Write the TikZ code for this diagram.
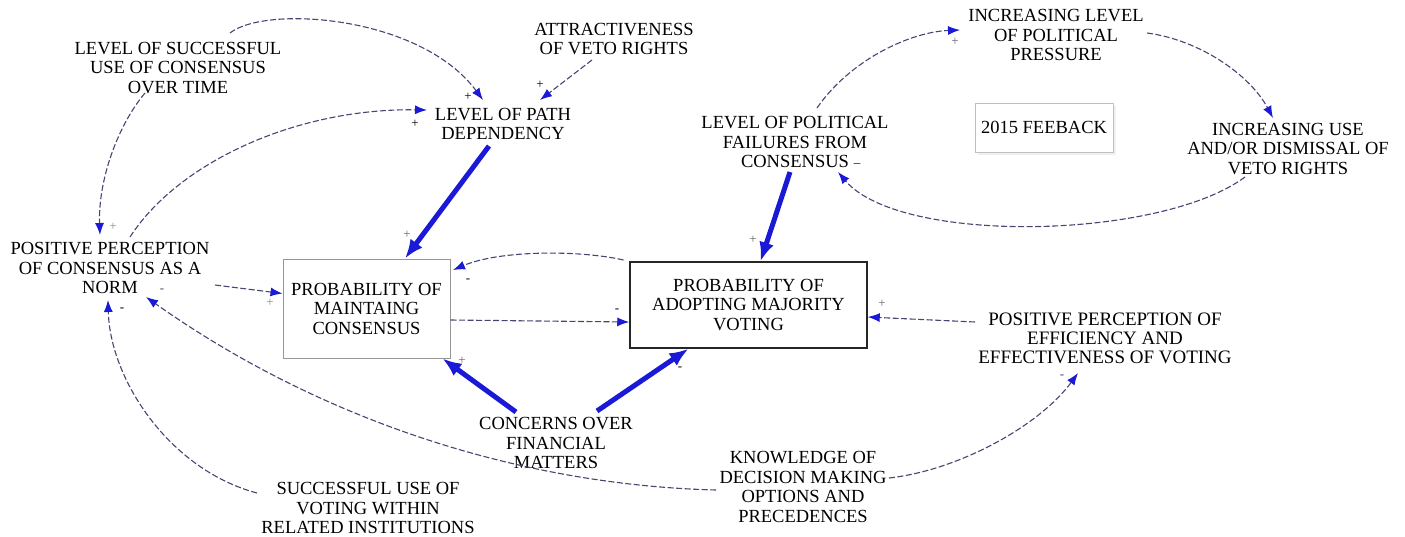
\documentclass[tikz,border=0pt]{standalone}
\usepackage{fontspec}
\setmainfont{Liberation Serif}
\usetikzlibrary{arrows.meta}
\definecolor{linkgray}{RGB}{70,70,115}
\definecolor{tipblue}{RGB}{25,25,215}
\definecolor{boxgray}{RGB}{150,150,150}
\tikzset{
  var/.style={align=center, font=\fontsize{18.5}{19.5}\selectfont, inner sep=0pt},
  link/.style={draw=linkgray, line width=1.1pt, dash pattern=on 6pt off 2.5pt,
    -{Latex[length=12pt,width=9pt,color=tipblue]}},
  strong/.style={draw=tipblue, line width=5pt, -{Latex[length=19pt,width=15pt]}},
  pol/.style={font=\fontsize{13}{13}\selectfont, inner sep=0pt},
  stockbox/.style={var, draw=boxgray, line width=1pt},
}
\begin{document}
\begin{tikzpicture}[x=1pt,y=-1pt]
\path[use as bounding box, fill=white] (0,0) rectangle (1405,536);

% variables
\node[var] (lsu) at (178,68) {LEVEL OF SUCCESSFUL\\USE OF CONSENSUS\\OVER TIME};
\node[var] (att) at (614,39) {ATTRACTIVENESS\\OF VETO RIGHTS};
\node[var] (lpd) at (503,124) {LEVEL OF PATH\\DEPENDENCY};
\node[var] (ilp) at (1056,35) {INCREASING LEVEL\\OF POLITICAL\\PRESSURE};
\node[var] (lpf) at (795,142) {LEVEL OF POLITICAL\\FAILURES FROM\\CONSENSUS};
\fill[black!6] (978,106) rectangle (1116,155);
\node[var, draw=black!25, fill=white, line width=0.8pt, minimum width=138pt, minimum height=49pt]
  (fb) at (1044,127.5) {2015 FEEBACK};
\node[var] (iud) at (1288,149) {INCREASING USE\\AND/OR DISMISSAL OF\\VETO RIGHTS};
\node[var] (ppc) at (110,268) {POSITIVE PERCEPTION\\OF CONSENSUS AS A\\NORM};
\node[stockbox, minimum width=167pt, minimum height=99pt] (pmc) at (366.5,308.5)
  {PROBABILITY OF\\MAINTAING\\CONSENSUS};
\node[stockbox, draw=black!85, line width=1.5pt, minimum width=237pt, minimum height=86pt]
  (pamv) at (748.5,305) {PROBABILITY OF\\ADOPTING MAJORITY\\VOTING};
\node[var, font=\fontsize{19}{19}\selectfont] (ppe) at (1105,338) {POSITIVE PERCEPTION OF\\EFFICIENCY AND\\EFFECTIVENESS OF VOTING};
\node[var] (cfm) at (556,443) {CONCERNS OVER\\FINANCIAL\\MATTERS};
\node[var] (kdm) at (803,487) {KNOWLEDGE OF\\DECISION MAKING\\OPTIONS AND\\PRECEDENCES};
\node[var] (suv) at (368,508) {SUCCESSFUL USE OF\\VOTING WITHIN\\RELATED INSTITUTIONS};

% thin causal links
\draw[link] ([shift={(52,-35)}]lsu.center) .. controls (265,5) and (420,15) .. ([shift={(-20,-24)}]lpd.center);
\draw[link] ([shift={(-33,25)}]lsu.center) .. controls (118,125) and (98,180) .. ([shift={(-10,-33)}]ppc.center);
\draw[link] ([shift={(20,-31)}]ppc.center) .. controls (180,160) and (300,108) .. ([shift={(-76,-14)}]lpd.center);
\draw[link] ([shift={(-22,21)}]att.center) -- ([shift={(37,-24)}]lpd.center);
\draw[link] ([shift={(22,-34)}]lpf.center) .. controls (850,60) and (910,32) .. ([shift={(-96,-5)}]ilp.center);
\draw[link] ([shift={(91,-2)}]ilp.center) .. controls (1200,40) and (1250,75) .. ([shift={(-15,-31)}]iud.center);
\draw[link] ([shift={(-43,28)}]iud.center) .. controls (1160,240) and (900,245) .. ([shift={(43,30)}]lpf.center);
\draw[link] ([shift={(-125,-45)}]pamv.center) .. controls (580,250) and (500,250) .. ([shift={(86.5,-38.5)}]pmc.center);
\draw[link] ([yshift=-11.5pt]pmc.east) -- ([yshift=-17pt]pamv.west);
\draw[link] ([shift={(105,17)}]ppc.center) -- ([yshift=15pt]pmc.west);
\draw[link] ([shift={(-130,-16)}]ppe.center) -- ([yshift=-12pt]pamv.east);
\draw[link] ([shift={(86,-9)}]kdm.center) .. controls (960,470) and (1040,425) .. ([shift={(-27,35)}]ppe.center);
\draw[link] ([shift={(-87,3)}]kdm.center) .. controls (520,485) and (320,420) .. ([shift={(36,29)}]ppc.center);
\draw[link] ([shift={(-111,-15)}]suv.center) .. controls (170,470) and (110,380) .. ([shift={(-2,32)}]ppc.center);

% strong causal links
\draw[strong] ([shift={(-14,22)}]lpd.center) -- ([xshift=38.5pt]pmc.north);
\draw[strong] ([shift={(-5,30)}]lpf.center) -- ([xshift=12pt]pamv.north);
\draw[strong] ([shift={(-40,-31)}]cfm.center) -- ([xshift=-8pt]pmc.south east);
\draw[strong] ([shift={(41,-32)}]cfm.center) -- ([xshift=-60pt]pamv.south);

% link polarities
\node[pol] (s1) at (468,97) {+};
\node[pol, text=black!45] (s2) at (113,227) {+};
\node[pol] (s3) at (415,124) {+};
\node[pol] (s4) at (540,85) {+};
\node[pol, text=black!60] (s5) at (407,235) {+};
\node[pol, text=black!60] (s6) at (753,240) {+};
\node[pol, text=black!60] (s7) at (955,42) {+};
\node[pol] (s8) at (857,163) {\_};
\node[pol] (s9) at (468,281) {-};
\node[pol] (s10) at (617,311) {-};
\node[pol, text=black!45] (s11) at (270,303) {+};
\node[pol, text=black!60] (s12) at (462,361) {+};
\node[pol] (s13) at (680,369) {-};
\node[pol, text=black!60] (s14) at (882,304) {+};
\node[pol, text=linkgray] (s15) at (1062,377) {-};
\node[pol, text=linkgray] (s16) at (162,291) {-};
\node[pol] (s17) at (122,310) {-};
\end{tikzpicture}
\end{document}
